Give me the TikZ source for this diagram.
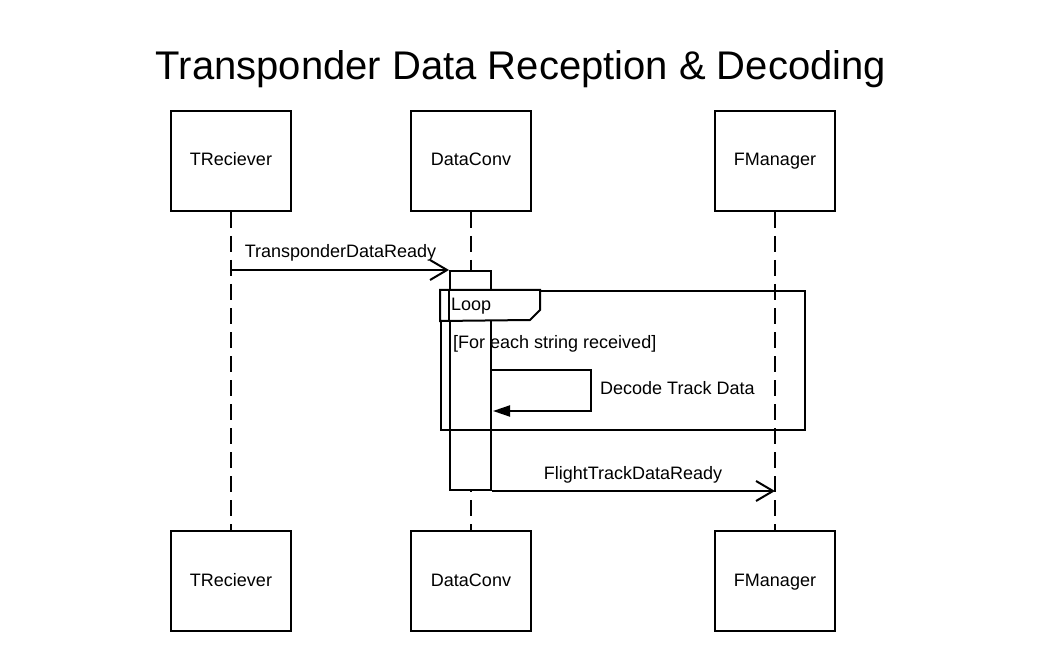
\documentclass[tikz,border=0pt]{standalone}
\usepackage{fontspec}
\setmainfont{Liberation Sans}
\usetikzlibrary{arrows.meta}
\begin{document}
\begin{tikzpicture}[x=1pt,y=-1pt,
  every node/.style={font=\fontsize{18}{20}\selectfont, inner sep=0pt},
  actor/.style={draw, line width=2pt, minimum width=120pt, minimum height=100pt, text height=13pt, text depth=3pt},
  lifeline/.style={line width=2pt, dash pattern=on 16pt off 8pt},
  msg/.style={line width=2pt, -{Straight Barb[length=17pt,width=20pt,line width=2pt]}},
  selfmsg/.style={line width=2pt, -{Triangle[length=17pt,width=11pt]}},
  framebox/.style={draw, line width=2pt},
  lbl/.style={anchor=base}
]
\useasboundingbox (0,0) rectangle (1042,671);
\fill[white] (0,0) rectangle (1042,671);

\node[lbl, font=\fontsize{40}{44}\selectfont] (title) at (521,80) {Transponder Data Reception \& Decoding};

% actor boxes
\node[actor] (tr) at (231,161) {TReciever};
\node[actor] (dc) at (471,161) {DataConv};
\node[actor] (fm) at (775,161) {FManager};
\node[actor] (tr2) at (231,581) {TReciever};
\node[actor] (dc2) at (471,581) {DataConv};
\node[actor] (fm2) at (775,581) {FManager};

% lifelines
\draw[lifeline] (tr.south) -- (tr2.north);
\draw[lifeline] (dc.south) -- (dc2.north);
\draw[lifeline] (fm.south) -- (fm2.north);

% activation bar
\node[draw, fill=white, line width=2pt, minimum width=41pt, minimum height=219pt] (act) at (470.5,380.5) {};

% loop frame
\node[framebox, minimum width=364pt, minimum height=139pt] (loop) at (623,360.5) {};
\coordinate (tabtr) at ([xshift=100pt]loop.north west);
\coordinate (tabbl) at (loop.north west |- 0,321);
\filldraw[line width=2pt, fill=white] (loop.north west) -- (tabtr) -- ++(0,20) -- ++(-10,10) -- (tabbl) -- cycle;
\draw[line width=2pt] (act.west |- loop.north) -- (act.west |- tabbl);
\node[anchor=base west] (looplbl) at (451,310) {Loop};
\node[anchor=base west] (guard) at (453,348) {[For each string received]};

% message 1
\coordinate (m1s) at (tr.south |- act.north west);
\draw[msg] (m1s) -- (act.north west);
\node[lbl] (m1l) at (340.5,258) {TransponderDataReady};

% self message
\coordinate (s1) at (act.east |- 0,370);
\coordinate (s2) at (591,370);
\coordinate (s3) at (act.east |- 0,411);
\draw[selfmsg] (s1) -- (s2) |- ([xshift=1pt]s3);
\node[anchor=base west] (sl) at (600,394) {Decode Track Data};

% message 2
\coordinate (m2e) at (fm.south |- act.south east);
\draw[msg] (act.south east) -- (m2e);
\node[lbl] (m2l) at (633,479) {FlightTrackDataReady};
\end{tikzpicture}
\end{document}
